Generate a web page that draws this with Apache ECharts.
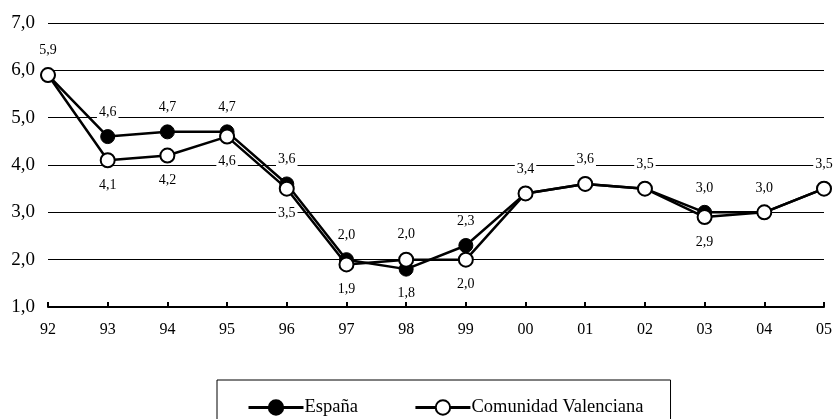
<!DOCTYPE html>
<html lang="es">
<head>
    <meta charset="UTF-8">
    <title>España / Comunidad Valenciana</title>
    <script src="https://cdn.jsdelivr.net/npm/echarts@6/dist/echarts.min.js"></script>
    <style type="text/css">
        body { margin: 0; background: #fff; }
        #chart { width: 835px; height: 419px; }
    </style>
</head>
<body>
<div id="chart"></div>
<script type="text/javascript">
    // datos
    const years = ["92", "93", "94", "95", "96", "97", "98", "99", "00", "01", "02", "03", "04", "05"];
    const espana = [5.9, 4.6, 4.7, 4.7, 3.6, 2.0, 1.8, 2.3, 3.4, 3.6, 3.5, 3.0, 3.0, 3.5];
    const valencia = [5.9, 4.1, 4.2, 4.6, 3.5, 1.9, 2.0, 2.0, 3.4, 3.6, 3.5, 2.9, 3.0, 3.5];

    const FONT = "Liberation Serif";
    const fmt = v => v.toFixed(1).replace(".", ",");

    const labelBase = {
        show: true,
        fontFamily: FONT,
        fontSize: 14,
        color: "#000",
        backgroundColor: "#fff",
        padding: [0, 2],
        distance: 10,
        formatter: p => fmt(p.value)
    };

    // España arriba salvo cuando queda por debajo de la C. Valenciana
    const espData = espana.map((v, i) => ({
        value: v,
        label: {position: v < valencia[i] ? "bottom" : "top"}
    }));
    // C. Valenciana abajo; si coincide con España no se repite la etiqueta
    const valData = valencia.map((v, i) => ({
        value: v,
        label: {
            show: v !== espana[i],
            position: v > espana[i] ? "top" : "bottom"
        }
    }));

    const chart = echarts.init(document.getElementById("chart"));
    chart.setOption({
        animation: false,
        backgroundColor: "#fff",
        grid: {left: 48, right: 9, top: 23, bottom: 112},
        xAxis: {
            type: "category",
            data: years,
            boundaryGap: false,
            axisLine: {lineStyle: {color: "#000", width: 2}},
            axisTick: {inside: true, length: 5, lineStyle: {color: "#000", width: 2}},
            axisLabel: {fontFamily: FONT, fontSize: 16, color: "#000", margin: 15}
        },
        yAxis: {
            type: "value",
            min: 1,
            max: 7,
            interval: 1,
            axisLine: {show: false},
            axisTick: {show: false},
            splitLine: {lineStyle: {color: "#000", width: 1}},
            axisLabel: {fontFamily: FONT, fontSize: 19, color: "#000", margin: 13, formatter: fmt}
        },
        legend: {
            left: 217,
            top: 380,
            orient: "horizontal",
            itemWidth: 55,
            itemHeight: 18,
            itemGap: 56,
            padding: [18, 27, 18, 30],
            borderColor: "#000",
            borderWidth: 1,
            lineStyle: {width: 3},
            textStyle: {fontFamily: FONT, fontSize: 18.5, color: "#000", padding: [0, 0, 0, -4]},
            data: ["España", "Comunidad Valenciana"]
        },
        series: [
            {
                name: "España",
                type: "line",
                data: espData,
                symbol: "circle",
                symbolSize: 14,
                z: 3,
                lineStyle: {color: "#000", width: 2.5},
                itemStyle: {color: "#000", borderColor: "#000", borderWidth: 1},
                label: labelBase
            },
            {
                name: "Comunidad Valenciana",
                type: "line",
                data: valData,
                symbol: "circle",
                symbolSize: 14,
                z: 4,
                lineStyle: {color: "#000", width: 2.5},
                itemStyle: {color: "#fff", borderColor: "#000", borderWidth: 2},
                label: labelBase
            }
        ]
    });
</script>
</body>
</html>
